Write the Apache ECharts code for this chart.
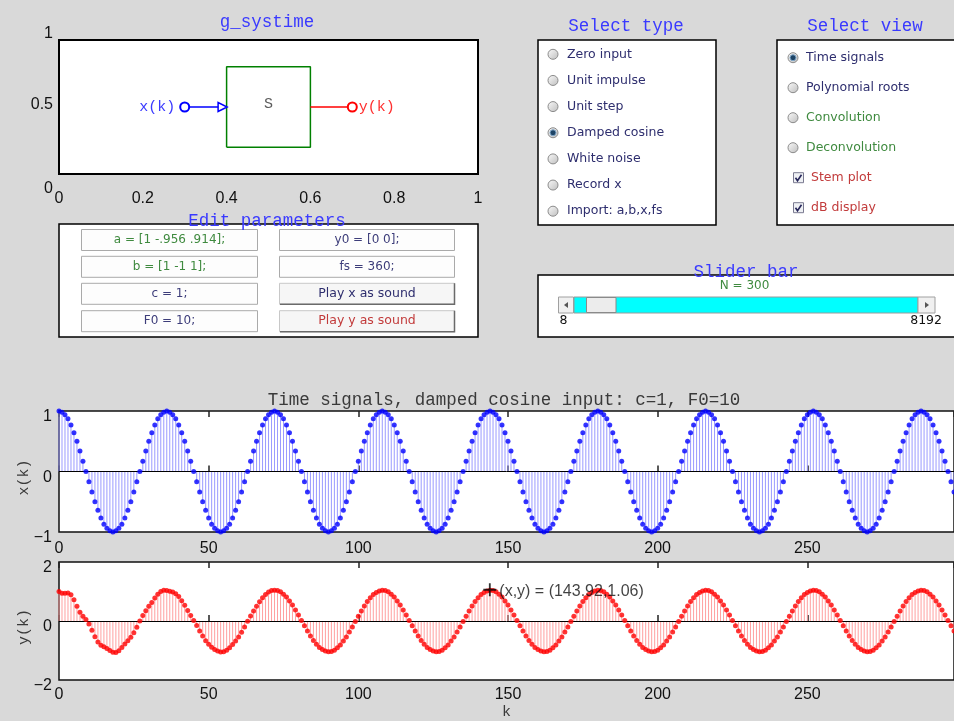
<!DOCTYPE html>
<html><head><meta charset="utf-8">
<script src="https://cdn.jsdelivr.net/npm/echarts@6/dist/echarts.min.js"></script>
<style>html,body{margin:0;padding:0;background:#d9d9d9;}#c{width:954px;height:721px;}</style>
</head><body><div id="c"></div>
<script>
// ---- data ----
const xSignal = [
1,0.98,0.94,0.87,0.77,0.64,0.5,0.34,0.17,0,-0.17,-0.34,-0.5,-0.64,-0.77,-0.87,-0.94,-0.98,-1,-0.98,-0.94,-0.87,-0.77,-0.64,-0.5,-0.34,-0.17,0,0.17,0.34,0.5,0.64,0.77,0.87,0.94,0.98,
1,0.98,0.94,0.87,0.77,0.64,0.5,0.34,0.17,0,-0.17,-0.34,-0.5,-0.64,-0.77,-0.87,-0.94,-0.98,-1,-0.98,-0.94,-0.87,-0.77,-0.64,-0.5,-0.34,-0.17,0,0.17,0.34,0.5,0.64,0.77,0.87,0.94,0.98,
1,0.98,0.94,0.87,0.77,0.64,0.5,0.34,0.17,0,-0.17,-0.34,-0.5,-0.64,-0.77,-0.87,-0.94,-0.98,-1,-0.98,-0.94,-0.87,-0.77,-0.64,-0.5,-0.34,-0.17,0,0.17,0.34,0.5,0.64,0.77,0.87,0.94,0.98,
1,0.98,0.94,0.87,0.77,0.64,0.5,0.34,0.17,0,-0.17,-0.34,-0.5,-0.64,-0.77,-0.87,-0.94,-0.98,-1,-0.98,-0.94,-0.87,-0.77,-0.64,-0.5,-0.34,-0.17,0,0.17,0.34,0.5,0.64,0.77,0.87,0.94,0.98,
1,0.98,0.94,0.87,0.77,0.64,0.5,0.34,0.17,0,-0.17,-0.34,-0.5,-0.64,-0.77,-0.87,-0.94,-0.98,-1,-0.98,-0.94,-0.87,-0.77,-0.64,-0.5,-0.34,-0.17,0,0.17,0.34,0.5,0.64,0.77,0.87,0.94,0.98,
1,0.98,0.94,0.87,0.77,0.64,0.5,0.34,0.17,0,-0.17,-0.34,-0.5,-0.64,-0.77,-0.87,-0.94,-0.98,-1,-0.98,-0.94,-0.87,-0.77,-0.64,-0.5,-0.34,-0.17,0,0.17,0.34,0.5,0.64,0.77,0.87,0.94,0.98,
1,0.98,0.94,0.87,0.77,0.64,0.5,0.34,0.17,0,-0.17,-0.34,-0.5,-0.64,-0.77,-0.87,-0.94,-0.98,-1,-0.98,-0.94,-0.87,-0.77,-0.64,-0.5,-0.34,-0.17,0,0.17,0.34,0.5,0.64,0.77,0.87,0.94,0.98,
1,0.98,0.94,0.87,0.77,0.64,0.5,0.34,0.17,0,-0.17,-0.34,-0.5,-0.64,-0.77,-0.87,-0.94,-0.98,-1,-0.98,-0.94,-0.87,-0.77,-0.64,-0.5,-0.34,-0.17,0,0.17,0.34,0.5,0.64,0.77,0.87,0.94,0.98,
1,0.98,0.94,0.87,0.77,0.64,0.5,0.34,0.17,0,-0.17,-0.34
];
const ySignal = [
1,0.94,0.94,0.95,0.89,0.72,0.5,0.3,0.16,0.05,-0.1,-0.31,-0.53,-0.71,-0.82,-0.87,-0.93,-1,-1.06,-1.07,-1.01,-0.9,-0.78,-0.67,-0.55,-0.4,-0.21,0,0.19,0.35,0.5,0.63,0.78,0.91,1,1.04,
1.03,1.01,0.98,0.92,0.83,0.69,0.53,0.36,0.19,0.02,-0.15,-0.34,-0.51,-0.67,-0.79,-0.89,-0.97,-1.02,-1.05,-1.04,-0.99,-0.91,-0.8,-0.68,-0.54,-0.38,-0.2,-0.01,0.17,0.34,0.5,0.65,0.79,0.9,0.98,1.03,
1.04,1.03,0.99,0.91,0.81,0.68,0.54,0.37,0.2,0.02,-0.16,-0.34,-0.51,-0.66,-0.79,-0.9,-0.97,-1.02,-1.04,-1.03,-0.99,-0.91,-0.81,-0.68,-0.54,-0.37,-0.2,-0.02,0.16,0.34,0.51,0.66,0.79,0.9,0.97,1.02,
1.04,1.03,0.99,0.91,0.81,0.68,0.54,0.37,0.2,0.02,-0.16,-0.34,-0.51,-0.66,-0.79,-0.9,-0.97,-1.02,-1.04,-1.03,-0.99,-0.91,-0.81,-0.68,-0.54,-0.37,-0.2,-0.02,0.16,0.34,0.51,0.66,0.79,0.9,0.97,1.02,
1.04,1.03,0.99,0.91,0.81,0.68,0.54,0.37,0.2,0.02,-0.16,-0.34,-0.51,-0.66,-0.79,-0.9,-0.97,-1.02,-1.04,-1.03,-0.99,-0.91,-0.81,-0.68,-0.54,-0.37,-0.2,-0.02,0.16,0.34,0.51,0.66,0.79,0.9,0.97,1.02,
1.04,1.03,0.99,0.91,0.81,0.68,0.54,0.37,0.2,0.02,-0.16,-0.34,-0.51,-0.66,-0.79,-0.9,-0.97,-1.02,-1.04,-1.03,-0.99,-0.91,-0.81,-0.68,-0.54,-0.37,-0.2,-0.02,0.16,0.34,0.51,0.66,0.79,0.9,0.97,1.02,
1.04,1.03,0.99,0.91,0.81,0.68,0.54,0.37,0.2,0.02,-0.16,-0.34,-0.51,-0.66,-0.79,-0.9,-0.97,-1.02,-1.04,-1.03,-0.99,-0.91,-0.81,-0.68,-0.54,-0.37,-0.2,-0.02,0.16,0.34,0.51,0.66,0.79,0.9,0.97,1.02,
1.04,1.03,0.99,0.91,0.81,0.68,0.54,0.37,0.2,0.02,-0.16,-0.34,-0.51,-0.66,-0.79,-0.9,-0.97,-1.02,-1.04,-1.03,-0.99,-0.91,-0.81,-0.68,-0.54,-0.37,-0.2,-0.02,0.16,0.34,0.51,0.66,0.79,0.9,0.97,1.02,
1.04,1.03,0.99,0.91,0.81,0.68,0.54,0.37,0.2,0.02,-0.16,-0.34
];
const cursorPoint = [143.92, 1.06];
const diagramBox = [[0.4,0.2],[0.6,0.2],[0.6,0.8],[0.4,0.8],[0.4,0.2]];
const inputWire = [[0.3,0.5],[0.4,0.5]];
const outputWire = [[0.6,0.5],[0.7,0.5]];
const diagramCenter = [0.5,0.5];
const plotTitle = 'Time signals, damped cosine input: c=1, F0=10';
const typeOptions = ['Zero input','Unit impulse','Unit step','Damped cosine','White noise','Record x','Import: a,b,x,fs'];
const selectedType = 'Damped cosine';
const viewOptions = ['Time signals','Polynomial roots','Convolution','Deconvolution'];
const viewColors = ['#2e2e6e','#2e2e6e','#3f8a3f','#3f8a3f'];
const checkOptions = ['Stem plot','dB display'];
const paramLeft = ['a = [1 -.956 .914];','b = [1 -1 1];','c = 1;','F0 = 10;'];
const paramLeftColors = ['#3f8a3f','#3f8a3f','#3d3d7a','#3d3d7a'];
const paramRight = ['y0 = [0 0];','fs = 360;'];
const playButtons = ['Play x as sound','Play y as sound'];
const playColors = ['#2e2e6e','#c23b3b'];
const sliderMin = '8', sliderMax = '8192', sliderValue = 'N = 300';

// ---- rendering ----
const MONO = '"Liberation Mono","Courier New",monospace';
const SANS = '"Liberation Sans",Arial,sans-serif';
const UI = '"DejaVu Sans",sans-serif';
const BLUE_T = '#3a3aff';

function txt(x, y, text, fill, font, align) {
  return {type:'text', x:x, y:y, z:50, style:{text:text, fill:fill, font:font, textAlign:align||'center', textVerticalAlign:'middle'}};
}
function rect(x, y, w, h, fill, stroke, lw) {
  return {type:'rect', z:10, shape:{x:x,y:y,width:w,height:h}, style:{fill:fill, stroke:stroke, lineWidth:lw||1}};
}
function radio(cx, cy, on) {
  const els = [{type:'circle', z:20, shape:{cx:cx,cy:cy,r:5},
    style:{fill:new echarts.graphic.LinearGradient(0,0,1,1,[{offset:0,color:'#fbfbfb'},{offset:1,color:'#bdbdbd'}]), stroke:'#8c8c8c', lineWidth:1}}];
  if (on) els.push({type:'circle', z:21, shape:{cx:cx,cy:cy,r:3}, style:{fill:'#1d4466', stroke:'#7fa6c8', lineWidth:1}});
  return els;
}
function checkbox(cx, cy) {
  return [
    {type:'rect', z:20, shape:{x:cx-5,y:cy-5,width:10,height:10}, style:{fill:'#eef0f4', stroke:'#7a7a90', lineWidth:1}},
    {type:'polyline', z:21, shape:{points:[[cx-3,cy],[cx-1,cy+3],[cx+3,cy-3]]}, style:{stroke:'#26265a', lineWidth:1.6, fill:null}}
  ];
}

const G = [];
G.push(txt(267, 22, 'g_systime', BLUE_T, '17.5px '+MONO));
G.push(txt(626, 26, 'Select type', BLUE_T, '17.5px '+MONO));
G.push(txt(865, 26, 'Select view', BLUE_T, '17.5px '+MONO));
G.push(txt(504, 400, plotTitle, '#3a3a3a', '17.5px '+MONO));
G.push(rect(538, 40, 178, 185, '#fff', '#000', 1.5));
typeOptions.forEach((t,i)=>{
  const y = 54.3 + i*26.15;
  radio(553, y, t===selectedType).forEach(e=>G.push(e));
  G.push(txt(567, y, t, '#2e2e6e', '12.5px '+UI, 'left'));
});
G.push(rect(777, 40, 200, 185, '#fff', '#000', 1.5));
viewOptions.forEach((t,i)=>{
  const y = 57.7 + i*30;
  radio(793, y, i===0).forEach(e=>G.push(e));
  G.push(txt(806, y, t, viewColors[i], '12.5px '+UI, 'left'));
});
checkOptions.forEach((t,i)=>{
  const y = 177.7 + i*30;
  checkbox(798.5, y).forEach(e=>G.push(e));
  G.push(txt(811, y, t, '#c23b3b', '12.5px '+UI, 'left'));
});
G.push(rect(59, 224, 419, 113, '#fff', '#000', 1.5));
const rowsY = [229.5, 256.3, 283.3, 310.7];
paramLeft.forEach((t,i)=>{
  G.push(rect(81.5, rowsY[i], 176, 21, '#fdfdfd', '#aaaaaa', 1));
  G.push(txt(169.5, rowsY[i]+10.5, t, paramLeftColors[i], '12px '+UI));
});
paramRight.forEach((t,i)=>{
  G.push(rect(279.5, rowsY[i], 175, 21, '#fdfdfd', '#aaaaaa', 1));
  G.push(txt(367, rowsY[i]+10.5, t, '#3d3d7a', '12px '+UI));
});
playButtons.forEach((t,i)=>{
  const y = rowsY[2+i];
  G.push(rect(279.5, y, 175, 21, '#f6f6f6', '#c8c8c8', 1));
  G.push({type:'polyline', z:11, shape:{points:[[280,y+21],[454.5,y+21],[454.5,y]]}, style:{stroke:'#6a6a6a', lineWidth:1.5, fill:null}});
  G.push(txt(367, y+10, t, playColors[i], '12.5px '+UI));
});
G.push(txt(267, 221.5, 'Edit parameters', BLUE_T, '17.5px '+MONO));
G.push(rect(538, 275, 420, 62, '#fff', '#000', 1.5));
G.push(txt(746, 272.5, 'Slider bar', BLUE_T, '17.5px '+MONO));
G.push(txt(744.5, 285.5, sliderValue, '#3f8a3f', '12px '+UI));
G.push(rect(558.5, 297, 15, 16, '#f0f0f0', '#a0a0a0', 1));
G.push({type:'polygon', z:12, shape:{points:[[564,305],[568,302],[568,308]]}, style:{fill:'#555'}});
G.push(rect(574, 297, 344, 16, '#00ffff', '#9a9a9a', 1));
G.push(rect(586.5, 297.5, 29.5, 15, '#ececec', '#8a8a8a', 1));
G.push(rect(918, 297, 17, 16, '#f0f0f0', '#a0a0a0', 1));
G.push({type:'polygon', z:12, shape:{points:[[929,305],[925,302],[925,308]]}, style:{fill:'#555'}});
G.push(txt(563.5, 321, sliderMin, '#111', '12.5px '+UI));
G.push(txt(942, 321, sliderMax, '#111', '12.5px '+UI, 'right'));

const tickLabel = {fontSize:16, fontFamily:SANS, color:'#111'};
function plotX(gridIndex, pos, showLabels, name) {
  return {type:'value', gridIndex:gridIndex, position:pos, min:0, max:299, interval:50,
    axisLine:{show:false}, splitLine:{show:false},
    axisTick:{show:true, inside:true, length:6, lineStyle:{color:'#222', width:1.5}},
    axisLabel:Object.assign({show:showLabels, margin:gridIndex===1?9:7, showMaxLabel:false}, tickLabel),
    name:name||'', nameLocation:'middle', nameGap:25, nameMoveOverlap:false,
    nameTextStyle:{fontFamily:MONO, fontSize:15, color:'#3a3a3a'}};
}
function plotY(gridIndex, lim, name) {
  return {type:'value', gridIndex:gridIndex, min:-lim, max:lim, interval:lim,
    axisLine:{show:false}, splitLine:{show:false}, axisTick:{show:false},
    axisLabel:{margin:7, formatter:v=>'{t|'+String(v).replace('-', '\u2212')+'}',
      rich:{t:Object.assign({padding:[12,0,0,0]}, tickLabel)}},
    name:name, nameLocation:'middle', nameGap:27, nameRotate:90, nameMoveOverlap:false,
    nameTextStyle:{fontFamily:MONO, fontSize:15, color:'#3a3a3a', padding:[0,12,0,0]}};
}
const zeroLine = {silent:true, symbol:'none', label:{show:false}, lineStyle:{color:'#000', width:1, type:'solid'}, data:[{yAxis:0}]};
const xPts = xSignal.map((v,i)=>[i,v]);
const yPts = ySignal.map((v,i)=>[i,v]);

const option = {
  animation:false,
  backgroundColor:'#d9d9d9',
  graphic:G,
  grid:[
    {left:59, top:40, width:419, height:134, show:true, borderColor:'#000', borderWidth:2, backgroundColor:'#fff'},
    {left:59, top:411, width:897, height:121, show:true, borderColor:'#111', borderWidth:1.5, backgroundColor:'#fff'},
    {left:59, top:562, width:897, height:121, show:true, borderColor:'#111', borderWidth:1.5, backgroundColor:'#fff'}
  ],
  xAxis:[
    {type:'value', gridIndex:0, min:0, max:1, interval:0.2, axisLine:{show:false}, axisTick:{show:false}, splitLine:{show:false},
     axisLabel:Object.assign({margin:17}, tickLabel)},
    plotX(1,'bottom',true), plotX(1,'top',false),
    plotX(2,'bottom',true,'k'), plotX(2,'top',false)
  ],
  yAxis:[
    {type:'value', gridIndex:0, min:0, max:1, interval:0.5, axisLine:{show:false}, axisTick:{show:false}, splitLine:{show:false},
     axisLabel:{margin:6, formatter:v=> v===1?'{a|1}':(v===0?'{b|0}':'{c|0.5}'),
       rich:{a:Object.assign({padding:[0,0,12,0]},tickLabel), b:Object.assign({padding:[30,0,0,0]},tickLabel), c:Object.assign({padding:[0,0,5,0]},tickLabel)}}},
    plotY(1,1,'x(k)'), plotY(2,2,'y(k)')
  ],
  series:[
    {type:'line', xAxisIndex:0, yAxisIndex:0, data:diagramBox, symbol:'none', lineStyle:{color:'#008000', width:1.5}, z:3},
    {type:'line', xAxisIndex:0, yAxisIndex:0, lineStyle:{color:'#0000ff', width:1.5}, itemStyle:{color:'#0000ff', borderWidth:1.5}, z:4,
     data:[{value:inputWire[0], symbol:'emptyCircle', symbolSize:9,
            label:{show:true, position:'left', distance:4, formatter:'x(k)', color:'#3a3aff', fontFamily:MONO, fontSize:15}},
           {value:inputWire[1], symbol:'triangle', symbolSize:[9,9], symbolRotate:-90, symbolOffset:[-4,0], itemStyle:{color:'#fff', borderColor:'#0000ff', borderWidth:1.5}}]},
    {type:'line', xAxisIndex:0, yAxisIndex:0, lineStyle:{color:'#ff0000', width:1.5}, itemStyle:{color:'#ff0000', borderWidth:1.5}, z:4,
     data:[{value:outputWire[0], symbol:'none'},
           {value:outputWire[1], symbol:'emptyCircle', symbolSize:9,
            label:{show:true, position:'right', distance:1, formatter:'y(k)', color:'#ff3030', fontFamily:MONO, fontSize:15}}]},
    {type:'scatter', xAxisIndex:0, yAxisIndex:0, data:[diagramCenter], symbolSize:1, itemStyle:{color:'transparent'},
     label:{show:true, position:'inside', formatter:'S', color:'#333', fontFamily:MONO, fontSize:15, offset:[0,-3]}},
    {type:'bar', xAxisIndex:1, yAxisIndex:1, data:xPts, barWidth:1, itemStyle:{color:'#9a9aff'}, markLine:zeroLine, z:2},
    {type:'scatter', xAxisIndex:1, yAxisIndex:1, data:xPts, symbolSize:5, itemStyle:{color:'#0000ff'}, z:5},
    {type:'bar', xAxisIndex:3, yAxisIndex:2, data:yPts, barWidth:1, itemStyle:{color:'#ffa0a0'}, markLine:zeroLine, z:2},
    {type:'scatter', xAxisIndex:3, yAxisIndex:2, data:yPts, symbolSize:5, itemStyle:{color:'#ff0000'}, z:5},
    {type:'scatter', xAxisIndex:3, yAxisIndex:2, data:[cursorPoint], symbol:'path://M4.3,0h1.4v4.3h4.3v1.4h-4.3v4.3h-1.4v-4.3h-4.3v-1.4h4.3z', symbolSize:13,
     itemStyle:{color:'#000'}, z:8,
     label:{show:true, position:'right', distance:3, color:'#111', fontFamily:SANS, fontSize:16, offset:[0,2],
       formatter:p=>'(x,y) = ('+p.value[0]+','+p.value[1]+')'}}
  ]
};
const chart = echarts.init(document.getElementById('c'), null, {renderer:'canvas'});
chart.setOption(option);
</script></body></html>
